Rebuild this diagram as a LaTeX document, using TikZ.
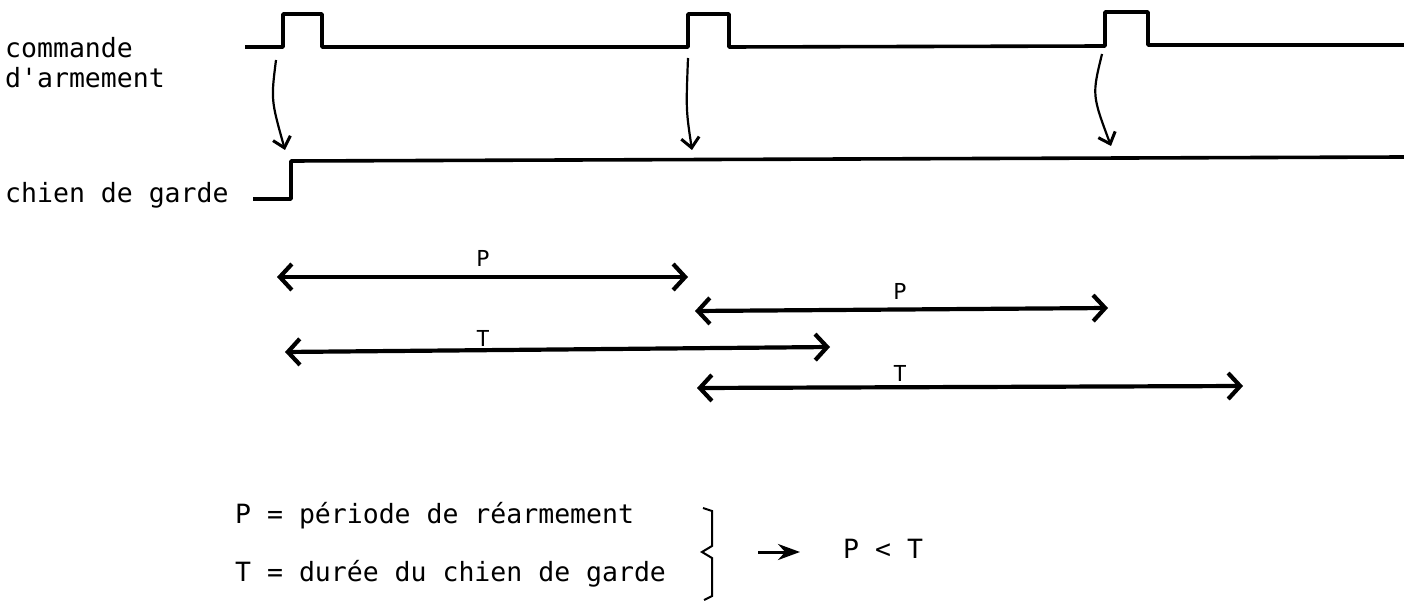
\documentclass[tikz,border=0pt]{standalone}
\usepackage{fontspec}
\newfontfamily\typewriter{DejaVu Sans Mono}
\usetikzlibrary{arrows.meta}
\tikzset{
  signal/.style={line width=3.6pt, line join=round},
  cause/.style={line width=2.2pt, -{Straight Barb[length=10pt,width=18pt,line width=3pt]}},
  span/.style={line width=4.2pt, {Straight Barb[length=12pt,width=26pt]}-{Straight Barb[length=12pt,width=26pt]}},
  legend/.style={inner sep=0pt, anchor=base west, font=\typewriter\fontsize{26.5}{30}\selectfont},
  spanlabel/.style={inner sep=0pt, anchor=base, font=\typewriter\fontsize{22}{24}\selectfont},
}
\begin{document}
\begin{tikzpicture}[x=1pt,y=-1pt]
\useasboundingbox (0,0) rectangle (1404,601);
% labels of the two signals
\node[legend] (cmd) at (5,58) {commande};
\node[legend] (arm) at (5,88) {d\textquotesingle armement};
\node[legend] (cdg) at (5,203) {chien de garde};
% commande d'armement
\coordinate (c1) at (283,47);
\coordinate (c2) at (688,47);
\coordinate (c3) at (1105,46);
\draw[signal] (245,47) -- (c1) -- (283,14) -- (322,14) -- (322,47) -- (c2)
  -- (688,14) -- (729,14) -- (729,47) -- (c3) -- (1105,12) -- (1148,12)
  -- (1148,45) -- (1404,45);
% chien de garde
\draw[signal] (253,199) -- (291,199) -- (291,161) -- (1404,157);
\coordinate (g1) at (285,150);
\coordinate (g2) at (692,150);
\coordinate (g3) at (1111,146);
% re-arming arrows
\draw[cause] ([shift={(-7,13)}]c1) .. controls (271,100) .. (g1);
\draw[cause] ([shift={(0,11)}]c2) .. controls (686,110) .. (g2);
\draw[cause] ([shift={(-3,8)}]c3) .. controls (1092,95) .. (g3);
% periods
\coordinate (p1a) at (277,277);  \coordinate (p1b) at (688,277);
\coordinate (p2a) at (695,311);  \coordinate (p2b) at (1108,308);
\coordinate (t1a) at (285,352);  \coordinate (t1b) at (830,347);
\coordinate (t2a) at (697,388);  \coordinate (t2b) at (1243,386);
\draw[span] (p1a) -- (p1b);
\draw[span] (p2a) -- (p2b);
\draw[span] (t1a) -- (t1b);
\draw[span] (t2a) -- (t2b);
\node[spanlabel] (lp1) at (483,267) {P};
\node[spanlabel] (lp2) at (900,300) {P};
\node[spanlabel] (lt1) at (483,346) {T};
\node[spanlabel] (lt2) at (900,381) {T};
% legend
\node[legend] (defp) at (235,523) {P = période de réarmement};
\node[legend] (deft) at (235,581) {T = durée du chien de garde};
\draw[line width=2pt] (703,508) -- (712,511) -- (712,546) -- (702,552)
  -- (712,558) -- (712,596) -- (704,600);
\node[legend] (res) at (843,558) {P < T};
\coordinate (ra) at (758,552);
\draw[line width=3pt, -{Stealth[length=22pt,width=16pt]}, shorten >=43pt] (ra) -- (ra -| res.west);
\end{tikzpicture}
\end{document}
